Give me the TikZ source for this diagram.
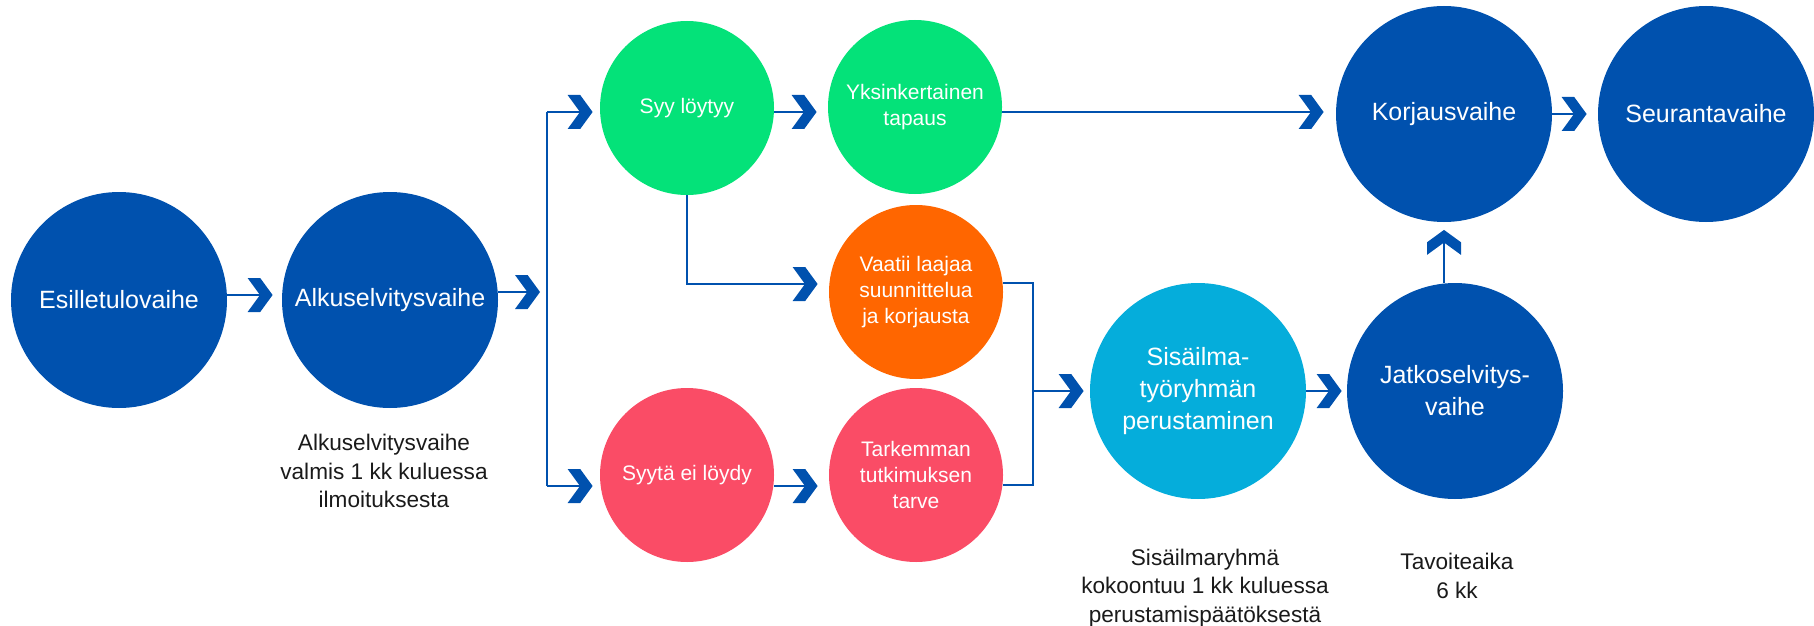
\documentclass[tikz,border=0pt]{standalone}
\usepackage{fontspec}
\setmainfont{Liberation Sans}
\usetikzlibrary{calc}
\definecolor{bl}{RGB}{0,81,174}
\definecolor{gr}{RGB}{4,226,121}
\definecolor{orng}{RGB}{255,102,0}
\definecolor{pnk}{RGB}{250,76,102}
\definecolor{cyn}{RGB}{5,173,219}
\definecolor{txt}{RGB}{26,26,26}
\pgfdeclarearrow{
  name=Chev,
  setup code={
    \pgfarrowssettipend{0pt}
    \pgfarrowssetlineend{-5.5pt}
    \pgfarrowssetbackend{-12.5pt}
    \pgfarrowsupperhullpoint{0pt}{0pt}
    \pgfarrowsupperhullpoint{-12.5pt}{8.5pt}
  },
  drawing code={
    \pgfpathmoveto{\pgfpointorigin}
    \pgfpathlineto{\pgfpoint{-6.2pt}{8.5pt}}
    \pgfpathlineto{\pgfpoint{-12.5pt}{8.5pt}}
    \pgfpathlineto{\pgfpoint{-6.3pt}{0pt}}
    \pgfpathlineto{\pgfpoint{-12.5pt}{-8.5pt}}
    \pgfpathlineto{\pgfpoint{-6.2pt}{-8.5pt}}
    \pgfpathclose
    \pgfusepathqfill
  }
}
\tikzset{
  big/.style={circle, minimum size=108pt, inner sep=0pt, text=white, align=center,
    font=\fontsize{12.5}{16}\selectfont},
  small/.style={circle, minimum size=87pt, inner sep=0pt, text=white, align=center,
    font=\fontsize{10.5}{13}\selectfont},
  wire/.style={color=bl, line width=1.35pt},
  conn/.style={wire, -Chev},
  note/.style={text=txt, align=center, font=\fontsize{11.3}{14.2}\selectfont}
}
\begin{document}
\begin{tikzpicture}[x=0.5pt,y=-0.5pt]
\useasboundingbox (0,0) rectangle (1814,626);
% nodes
\node[big, fill=bl] (esil) at (119,300) {Esilletulovaihe};
\node[big, fill=bl] (alku) at (390,300) {Alkuselvitysvaihe};
\node[small, fill=gr] (syy) at (687,108) {Syy löytyy};
\node[small, fill=gr] (yks) at (915,107) {Yksinkertainen\\tapaus};
\node[small, fill=orng] (vaat) at (916,292) {Vaatii laajaa\\suunnittelua\\ja korjausta};
\node[small, fill=pnk] (syyei) at (687,475) {Syytä ei löydy};
\node[small, fill=pnk] (tark) at (916,475) {Tarkemman\\tutkimuksen\\tarve};
\node[big, fill=cyn] (sis) at (1198,391) {Sisäilma-\\työryhmän\\perustaminen};
\node[big, fill=bl] (jatko) at (1455,391) {Jatkoselvitys-\\vaihe};
\node[big, fill=bl] (korj) at (1444,114) {Korjausvaihe};
\node[big, fill=bl] (seur) at (1706,114) {Seurantavaihe};
% notes
\node[note] (n1) at (384,471) {Alkuselvitysvaihe\\valmis 1 kk kuluessa\\ilmoituksesta};
\node[note] (n2) at (1205,588) {Sisäilmaryhmä\\kokoontuu 1 kk kuluessa\\perustamispäätöksestä};
\node[note] (n3) at (1457,576) {Tavoiteaika\\6 kk};
% helper coordinates
\coordinate (alkuend) at (540,292);
\coordinate (trT) at (547,112);
\coordinate (trB) at (547,486);
\coordinate (jT) at (1033,283);
\coordinate (jB) at (1033,485);
\coordinate (jM) at (1033,391);
% connectors
\draw[conn, shorten >=4.5pt] ([yshift=2.5pt]esil.east) -- ([yshift=2.5pt]esil.east -| alku.west);
\draw[conn] ([yshift=4pt]alku.east) -- (alkuend);
\draw[wire] (trT) -- (trB);
\draw[conn, shorten >=3.5pt] (trT) -- (trT -| syy.west);
\draw[conn, shorten >=3.5pt] (trB) -- (trB -| syyei.west);
\draw[conn, shorten >=5.5pt] ([yshift=-2pt]syy.east) -- ([yshift=-2pt]syy.east -| yks.west);
\draw[conn, shorten >=5.5pt] (syy.south) |- ([yshift=4pt]vaat.west);
\draw[conn, shorten >=5.5pt] ([yshift=-5.5pt]syyei.east) -- ([yshift=-5.5pt]syyei.east -| tark.west);
\draw[conn, shorten >=6pt] ([yshift=-2.5pt]yks.east) -- ([yshift=-2.5pt]yks.east -| korj.west);
\draw[conn, shorten >=5.5pt] (korj.east) -- (seur.west);
\draw[wire] ([yshift=4.5pt]vaat.east) -- (jT) -- (jB) -- (tark.east |- jB);
\draw[conn, shorten >=3pt] (jM) -- (sis.west);
\draw[conn, shorten >=2.5pt] (sis.east) -- (jatko.west);
\draw[conn, shorten >=3.75pt] (korj.south |- jatko.north) -- (korj.south);
\end{tikzpicture}
\end{document}
